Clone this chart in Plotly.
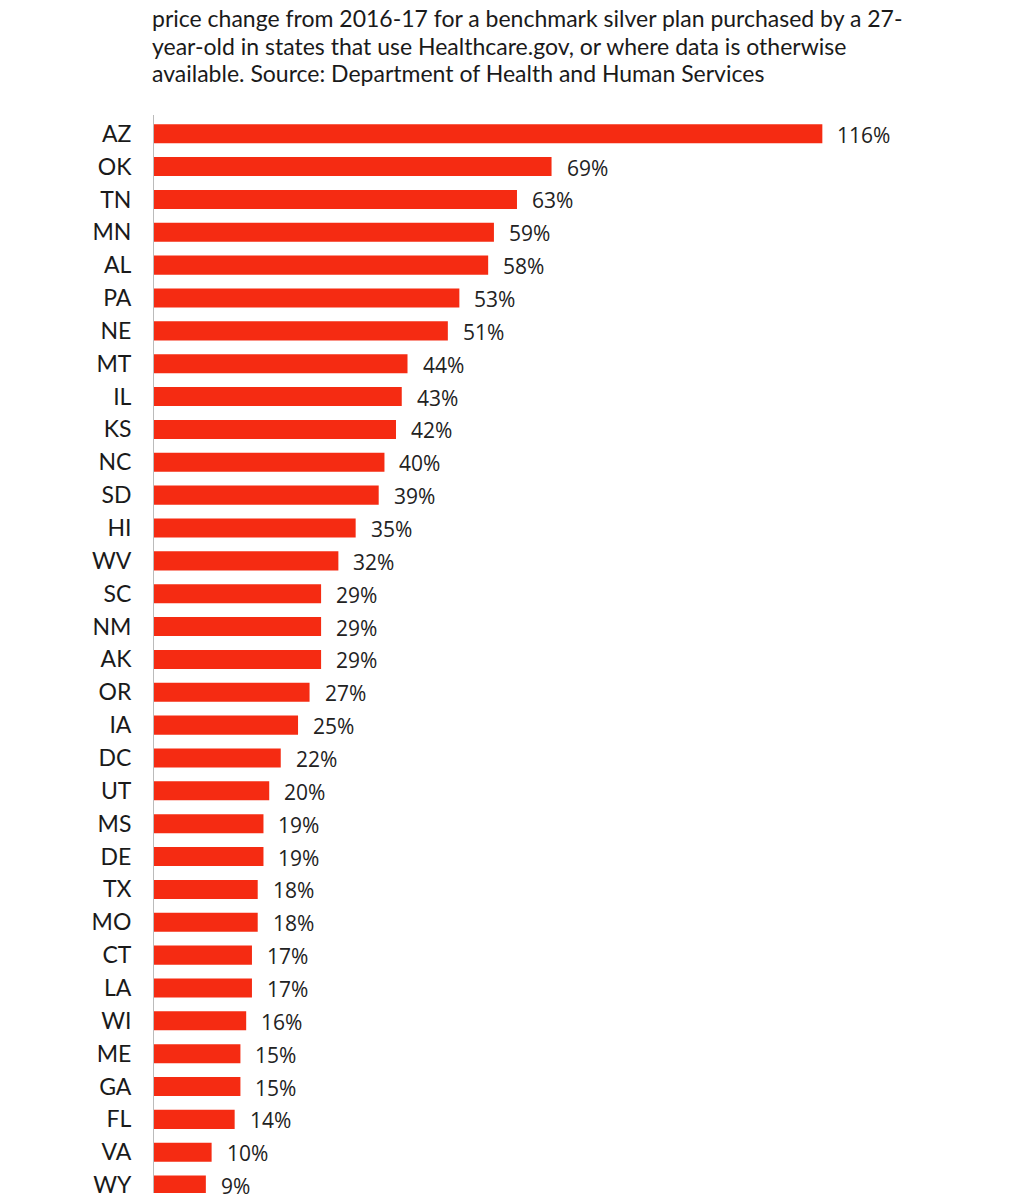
import plotly.graph_objects as go

states = ["AZ", "OK", "TN", "MN", "AL", "PA", "NE", "MT", "IL", "KS", "NC", "SD",
          "HI", "WV", "SC", "NM", "AK", "OR", "IA", "DC", "UT", "MS", "DE", "TX",
          "MO", "CT", "LA", "WI", "ME", "GA", "FL", "VA", "WY"]
changes = [116, 69, 63, 59, 58, 53, 51, 44, 43, 42, 40, 39,
           35, 32, 29, 29, 29, 27, 25, 22, 20, 19, 19, 18,
           18, 17, 17, 16, 15, 15, 14, 10, 9]

title_lines = ["price change from 2016-17 for a benchmark silver plan purchased by a 27-",
               "year-old in states that use Healthcare.gov, or where data is otherwise",
               "available. Source: Department of Health and Human Services"]

fig = go.Figure()
fig.add_trace(go.Bar(
    x=changes, y=states, orientation="h",
    marker=dict(color="#f52b12", line=dict(width=0)),
    width=0.58, hoverinfo="skip",
))

for s, v in zip(states, changes):
    fig.add_annotation(x=v, y=s, text=f"{v}%", showarrow=False,
                       xanchor="left", yanchor="middle", xshift=13, yshift=-1,
                       font=dict(family="Open Sans", size=21, color="#222222"))

# title lines (page is offset 8px by browser body margin)
for i, line in enumerate(title_lines):
    fig.add_annotation(xref="paper", yref="paper", x=0, y=1,
                       xanchor="left", yanchor="middle",
                       xshift=-4, yshift=97 - i * 27.5,
                       text=line, showarrow=False,
                       font=dict(family="Lato", size=23, color="#1a1a1a"))

fig.update_layout(
    width=1016, height=1190,
    margin=dict(l=146, r=0, t=107, b=0),
    paper_bgcolor="white", plot_bgcolor="white",
    showlegend=False,
    xaxis=dict(range=[0, 151], showgrid=False, zeroline=False,
               showticklabels=False, showline=False),
    yaxis=dict(range=[32.24, -0.57], showgrid=False, zeroline=False,
               showline=True, linecolor="#bbbbbb", linewidth=1,
               ticks="outside", ticklen=17, tickcolor="rgba(0,0,0,0)",
               tickfont=dict(family="Lato", size=23, color="#1a1a1a")),
)

fig.write_html("out.html")
